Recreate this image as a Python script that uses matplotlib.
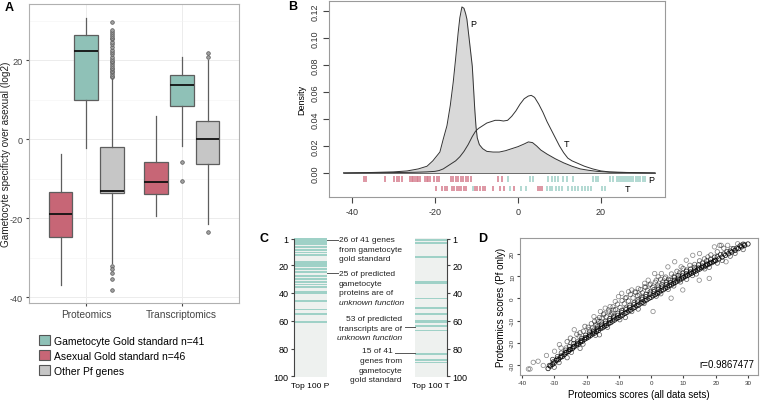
import matplotlib
matplotlib.use("Agg")
import matplotlib.pyplot as plt
from matplotlib.patches import Patch

plt.rcParams['font.family'] = ['Liberation Sans', 'DejaVu Sans']

# ---------------- data ----------------
groups = ["Proteomics", "Transcriptomics"]
legend_labels = ["Gametocyte Gold standard n=41", "Asexual Gold standard n=46", "Other Pf genes"]

# five-number summaries [whisker low, q1, median, q3, whisker high]
prot_asexual = [-37.0, -24.8, -19.0, -13.4, -3.8]
prot_gametocyte = [-2.3, 9.9, 22.4, 26.3, 30.6]
prot_other = [-31.3, -13.7, -13.1, -2.1, 15.4]
trans_asexual = [-19.5, -13.9, -10.9, -5.9, 5.8]
trans_gametocyte = [-1.7, 8.3, 13.7, 16.2, 20.9]
trans_other = [-21.5, -6.2, 0.0, 4.5, 20.0]

prot_other_out = [15.6, 16.0, 16.5, 16.9, 17.3, 17.7, 18.1, 18.6, 19.0, 19.4, 19.8, 20.4,
                  20.9, 21.5, 22.1, 22.6, 23.2, 24.0, 24.6, 25.3, 25.7, 26.1, 26.6, 27.0,
                  27.7, 29.7, -32.2, -32.8, -34.0, -35.3, -38.3]
trans_gametocyte_out = [-5.8, -10.6]
trans_other_out = [20.8, 21.8, -23.5]
a_yticks = [-40, -20, 0, 20]
a_yticklabels = ["-40", "-20", "0", "20"]

# density curves (panel B)
p_x = [-42, -36, -30, -26.7, -24, -21.9, -20.5, -18.8, -18.0, -17.1, -16.3, -15.6, -15.0, -14.4,
       -14.0, -13.5, -13.0, -12.6, -12.3, -11.7, -11.0, -10.7, -10.4, -10.1, -9.8, -9.3, -8.5,
       -7.5, -6.0, -4.5, -3.0, -1.5, 0.0, 1.5, 2.5, 3.5, 4.5, 5.5, 7.0, 9.0, 11.0, 13.0, 15.0,
       17.0, 19.0, 22.0, 26.0, 30.0, 33.0]
p_d = [0, 0.0003, 0.0008, 0.0015, 0.003, 0.005, 0.009, 0.0155, 0.025, 0.035, 0.05, 0.067,
       0.085, 0.104, 0.115, 0.123, 0.122, 0.118, 0.114, 0.098, 0.079, 0.063, 0.047, 0.034,
       0.026, 0.021, 0.018, 0.016, 0.0155, 0.0155, 0.0165, 0.018, 0.0195, 0.0215, 0.023,
       0.0225, 0.02, 0.017, 0.014, 0.0105, 0.0075, 0.005, 0.003, 0.002, 0.0012, 0.0006,
       0.0004, 0.0002, 0]
t_x = [-42, -35, -30, -25, -22, -20, -19, -18, -17, -16, -15, -14, -13, -12, -11, -10.2,
       -9.5, -8.5, -7.5, -6.5, -5.5, -4.5, -3.5, -2.5, -1.5, -0.5, 0.5, 1.5, 2.5, 3.2, 4.0,
       5.0, 6.0, 7.0, 8.0, 9.0, 10.0, 11.0, 12.0, 13.0, 14.5, 16.0, 18.0, 20.0, 22.0, 24.0,
       27.0, 30.0, 33.0]
t_d = [0, 0.0002, 0.0003, 0.0005, 0.0008, 0.0012, 0.0018, 0.003, 0.005, 0.007, 0.009, 0.012,
       0.016, 0.021, 0.027, 0.031, 0.033, 0.035, 0.037, 0.038, 0.039, 0.039, 0.0385, 0.039,
       0.042, 0.046, 0.051, 0.055, 0.057, 0.0575, 0.056, 0.051, 0.045, 0.038, 0.032, 0.026,
       0.02, 0.015, 0.011, 0.009, 0.007, 0.005, 0.003, 0.0015, 0.0008, 0.0005, 0.0003,
       0.0001, 0]
b_xticks = [-40, -20, 0, 20]
b_xticklabels = ["-40", "-20", "0", "20"]
b_yticks = [0, 0.02, 0.04, 0.06, 0.08, 0.10, 0.12]

rugP_asexual = [-37.1, -36.6, -31.9, -29.8, -29.2, -28.6, -27.9, -26.0, -25.6, -25.2, -24.8,
                -24.4, -24.0, -23.6, -22.4, -22.0, -21.6, -21.2, -20.2, -19.6, -19.0, -16.1,
                -15.6, -15.0, -14.4, -13.8, -13.2, -12.5, -12.0, -11.3, -4.7, -3.9]
rugP_gametocyte = [-2.5, 2.9, 3.7, 7.3, 8.1, 8.9, 9.7, 10.9, 11.7, 13.3, 18.1, 18.7, 19.3,
                   22.2, 23.0, 23.8, 24.3, 24.8, 25.3, 25.8, 26.3, 26.8, 27.3, 27.8, 28.3,
                   28.9, 29.4, 30.2, 30.6]
rugT_asexual = [-19.8, -18.2, -17.6, -17.0, -16.0, -15.4, -14.8, -14.2, -13.6, -13.0, -12.4,
                -10.4, -9.8, -9.2, -8.5, -8.0, -6.1, -4.4, -3.4, -1.0, 4.9, 5.4, 5.9]
rugT_gametocyte = [-10.9, -1.9, 0.7, 1.9, 6.9, 7.7, 8.3, 9.1, 9.9, 10.7, 12.0, 12.9, 13.7,
                   14.5, 15.3, 16.1, 16.9, 17.5, 20.2, 21.0]

# panel C: ranks of gold-standard genes in the top 100
top100_P_ranks = [1, 2, 3, 4, 5, 7, 9, 11, 13, 18, 19, 20, 21, 23, 25, 28, 30, 32, 34, 36,
                  39, 40, 46, 52, 55, 61]
top100_T_ranks = [2, 4, 14, 32, 33, 44, 51, 55, 60, 61, 64, 67, 84, 88, 90]
rank_ticks = [1, 20, 40, 60, 80, 100]

# panel D scatter
core_x = [-31.9, -31.2, -30.6, -30.0, -29.4, -28.7, -28.1, -27.5, -26.9, -26.2, -25.6, -25.0,
          -24.4, -23.8, -23.1, -22.5, -21.9, -21.3, -20.6, -20.0, -19.4, -18.8, -18.1, -17.5,
          -16.9, -16.3, -15.6, -15.0, -14.4, -13.8, -13.1, -12.5, -11.9, -11.3, -10.6, -10.0,
          -9.4, -8.8, -8.1, -7.5, -6.9, -6.3, -5.6, -5.0, -4.4, -3.8, -3.1, -2.5, -1.9, -1.3,
          -0.6, 0.0, 0.6, 1.3, 1.9, 2.5, 3.1, 3.8, 4.4, 5.0, 5.6, 6.3, 6.9, 7.5, 8.1, 8.8,
          9.4, 10.0, 10.6, 11.3, 11.9, 12.5, 13.1, 13.8, 14.4, 15.0, 15.6, 16.3, 16.9, 17.5,
          18.1, 18.8, 19.4, 20.0, 21.0, 22.0, 23.0, 24.0, 25.0, 26.0, 27.0, 28.0, 29.0, 30.0]
core_y = [-31.6, -30.5, -29.8, -29.1, -28.0, -27.6, -26.6, -26.2, -25.3, -24.4, -23.9, -23.1,
          -22.6, -21.8, -21.0, -20.6, -19.7, -19.3, -18.4, -17.9, -17.4, -16.8, -16.0, -15.6,
          -14.9, -14.4, -13.6, -13.2, -12.5, -12.1, -11.3, -10.9, -10.2, -9.7, -9.0, -8.6,
          -7.9, -7.5, -6.7, -6.3, -5.6, -5.2, -4.4, -4.0, -3.3, -2.9, -2.1, -1.7, -1.0, -0.6,
          0.1, 0.5, 1.2, 1.7, 2.3, 2.8, 3.5, 3.9, 4.6, 5.0, 5.7, 6.1, 6.7, 7.2, 7.8, 8.3,
          8.8, 9.3, 9.9, 10.3, 10.9, 11.3, 11.8, 12.3, 12.8, 13.2, 13.8, 14.2, 14.7, 15.2,
          15.6, 16.1, 16.6, 17.0, 17.8, 18.6, 19.4, 20.1, 20.9, 21.6, 22.4, 23.2, 23.9, 24.5]
mid_x = [-31.5, -30.3, -29.1, -27.8, -26.6, -25.3, -24.1, -22.8, -21.6, -20.3, -19.1, -17.8,
         -16.6, -15.3, -14.1, -12.8, -11.6, -10.3, -9.1, -7.8, -6.6, -5.3, -4.1, -2.8, -1.6,
         -0.3, 0.9, 2.2, 3.4, 4.7, 5.9, 7.2, 8.4, 9.7, 10.9, 12.2, 13.4, 14.7, 15.9, 17.2,
         18.4, 19.7, 20.5, 22.5, 24.5, 26.5, 28.5]
mid_y = [-30.2, -28.6, -27.3, -25.9, -24.5, -23.0, -21.8, -20.3, -19.0, -17.6, -16.4, -15.0,
         -13.8, -12.5, -11.2, -10.0, -8.8, -7.6, -6.4, -5.1, -4.0, -2.8, -1.6, -0.4, 0.8, 1.9,
         3.0, 4.1, 5.1, 6.2, 7.2, 8.2, 9.1, 10.1, 11.0, 11.9, 12.8, 13.7, 14.6, 15.5, 16.3,
         17.2, 18.8, 20.0, 21.3, 22.6, 24.4]
upper_x = [-30.5, -29.0, -27.8, -26.5, -25.3, -24.0, -22.8, -21.6, -20.3, -19.1, -17.8, -16.6,
           -15.3, -14.1, -12.8, -11.6, -10.3, -9.1, -7.8, -6.6, -5.3, -4.1, -2.8, -1.6, -0.3,
           0.9, 2.2, 3.4, 4.7, 5.9, 7.2, 8.4, 9.7, 10.9, 12.2, 13.4, 14.7, 15.9, 17.2, 18.4,
           19.7, 21.5, 23.5, 25.5, 27.5]
upper_y = [-27.5, -26.2, -24.6, -23.3, -21.7, -20.4, -19.6, -18.0, -16.6, -15.2, -14.3, -12.8,
           -11.6, -10.3, -9.1, -8.0, -6.7, -5.4, -4.4, -3.1, -2.0, -0.7, 0.5, 1.8, 2.9, 4.0,
           5.1, 6.2, 7.3, 8.2, 9.4, 10.3, 11.3, 12.2, 13.2, 14.0, 15.1, 15.9, 16.9, 17.6,
           18.6, 19.7, 21.0, 22.4, 23.6]
cloud_x = [-26.0, -25.0, -24.0, -23.0, -22.0, -21.0, -20.5, -19.5, -18.5, -17.5, -16.8, -16.0,
           -15.5, -14.6, -13.9, -13.0, -12.4, -11.8, -11.0, -10.4, -9.6, -9.0, -8.3, -7.7,
           -7.0, -6.4, -5.6, -4.8, -4.2, -3.3, -2.7, -1.8, -1.1, -0.2, 0.5, 1.3, 2.0, 2.9,
           3.6, 4.5, 5.4, 6.3, 7.1, 8.0, 8.8, 9.9, 11.0, 12.0, 13.5, 15.0, 16.5, 18.5, 20.5,
           22.5]
cloud_y = [-19.5, -17.9, -18.6, -16.2, -15.5, -14.8, -12.6, -13.0, -11.4, -10.3, -12.0, -8.6,
           -10.5, -6.9, -8.3, -6.1, -7.4, -3.8, -5.0, -2.6, -4.1, -1.0, -2.4, 0.4, -1.2, 1.8,
           0.2, 2.6, 1.2, 4.0, 2.5, 4.9, 3.6, 6.4, 5.0, 7.3, 6.0, 8.6, 7.4, 9.6, 8.6, 11.0,
           9.9, 12.2, 11.5, 13.5, 12.8, 14.9, 15.3, 16.9, 17.8, 19.6, 21.0, 22.6]
lower_x = [-30.0, -28.5, -26.0, -24.7, -22.0, -21.1, -17.2, -16.0, -13.5, -9.7, -8.0, -6.0,
           -4.0, -2.2, 1.6, 3.0, 5.3, 7.0, 9.1, 11.0, 12.8, 14.0, 16.6, 18.0, 20.5, 22.0,
           24.5, 26.0, 28.5]
lower_y = [-31.0, -28.9, -26.7, -24.3, -22.5, -20.6, -16.6, -16.4, -13.0, -9.6, -8.6, -5.9,
           -4.8, -2.3, 1.0, 2.1, 4.1, 5.6, 7.4, 8.6, 10.3, 11.0, 13.3, 14.0, 15.9, 17.1, 19.0,
           20.3, 22.0]
sparse_x = [-38.0, -37.5, -36.5, -35.0, -33.4, -32.4, -29.9, -28.4, -27.9, -26.3, -24.8, -23.8,
            -22.3, -19.2, -18.2, -17.2, -16.2, -15.7, -14.7, -13.2, -12.7, -11.1, -10.1, -9.1,
            -8.0, -7.0, -6.0, -5.0, -3.5, -2.0, -0.9, 1.1, 3.2, 5.2, 7.3, 9.3, 10.9, 12.9, 15.0,
            17.6, 19.6, 21.7, 23.7, 24.8, 26.8, 27.8, 28.9, 0.6, 6.2, 9.8, 14.9, 18.0, 23.2,
            21.2, -4.0, -2.0, -0.5, 1.6, 2.2, 4.2, -17.7, -16.7, -15.2, -14.2, -12.1, -11.6]
sparse_y = [-31.8, -31.8, -28.8, -28.3, -30.2, -25.7, -23.8, -20.8, -22.3, -22.3, -20.1, -14.1,
            -17.1, -14.1, -13.4, -11.9, -10.4, -5.9, -7.4, -5.2, -3.7, -1.4, 0.8, 2.3, 0.1,
            3.0, 3.8, 3.0, 1.6, 6.8, 8.2, 11.2, 11.2, 14.2, 16.5, 14.2, 17.2, 19.4, 20.2, 18.7,
            23.2, 23.9, 23.9, 22.4, 24.6, 23.9, 24.3, -5.9, 0.1, 3.8, 8.2, 9.0, 16.5, 23.9,
            4.5, 5.3, 6.0, 8.2, 9.7, 9.0, -8.2, -9.6, -8.9, -4.4, -6.6, -5.2]
d_xticks = [-40, -30, -20, -10, 0, 10, 20, 30]
d_xticklabels = ["-40", "-30", "-20", "-10", "0", "10", "20", "30"]
d_yticks = [-30, -20, -10, 0, 10, 20]
d_yticklabels = ["-30", "-20", "-10", "0", "10", "20"]
r_value = "r=0.9867477"

# ---------------- styling ----------------
GREEN = "#8fc1b7"
RED = "#c76676"
GREY = "#c6c6c6"
RUG_RED = "#d57b8b"
RUG_GREEN = "#9ed0c6"
STRIPE = "#9fd1c7"

W, H = 760, 406
fig = plt.figure(figsize=(W / 100, H / 100), dpi=100)


def px_axes(l, t, r, b, **kw):
    return fig.add_axes([l / W, 1 - b / H, (r - l) / W, (b - t) / H], **kw)


# ---------------- panel A ----------------
axA = px_axes(29, 5, 239, 304)
box_sets = [
    (prot_asexual, [], RED, 1 - 0.27),
    (prot_gametocyte, [], GREEN, 1.0),
    (prot_other, prot_other_out, GREY, 1 + 0.27),
    (trans_asexual, [], RED, 2 - 0.27),
    (trans_gametocyte, trans_gametocyte_out, GREEN, 2.0),
    (trans_other, trans_other_out, GREY, 2 + 0.27),
]
for s, fl, col, pos in box_sets:
    st = dict(whislo=s[0], q1=s[1], med=s[2], q3=s[3], whishi=s[4], fliers=fl)
    axA.bxp([st], positions=[pos], widths=0.25, patch_artist=True, showcaps=False,
            boxprops=dict(facecolor=col, edgecolor="#5e5e5e", linewidth=0.9),
            whiskerprops=dict(color="#5e5e5e", linewidth=0.9),
            medianprops=dict(color="#111111", linewidth=1.3),
            flierprops=dict(marker="o", markersize=2.6, markerfacecolor="#a0a0a0",
                            markeredgecolor="#555555", markeredgewidth=0.5),
            manage_ticks=False, zorder=3)
axA.set_xlim(0.4, 2.6)
axA.set_ylim(-41.5, 34.2)
axA.set_xticks([1, 2])
axA.set_xticklabels(groups, fontsize=7.3, color="#333333")
axA.set_yticks(a_yticks)
axA.set_yticklabels(a_yticklabels)
axA.set_yticks([-30, -10, 10, 30], minor=True)
axA.tick_params(axis="both", which="major", length=2.5, color="#444444",
                labelcolor="#444444", pad=2)
axA.tick_params(axis="y", which="major", labelsize=6.6)
axA.tick_params(axis="y", which="minor", length=0)
axA.grid(True, which="major", color="#ececec", linewidth=0.7)
axA.grid(True, which="minor", axis="y", color="#f3f3f3", linewidth=0.4)
axA.set_axisbelow(True)
for sp in axA.spines.values():
    sp.set_color("#b0b0b0")
    sp.set_linewidth(0.8)
axA.set_ylabel("Gametocyte specificty over asexual (log2)", fontsize=7.2, color="#222222")
axA.yaxis.set_label_coords(-0.088, 0.5)
handles = [Patch(facecolor=c, edgecolor="#555555", linewidth=0.8) for c in (GREEN, RED, GREY)]
axA.legend(handles, legend_labels, loc="upper left", bbox_to_anchor=(39 / W, 1 - 336 / H),
           bbox_transform=fig.transFigure, frameon=False, fontsize=7.5, handlelength=1.05,
           handleheight=1.15, handletextpad=0.35, labelspacing=0.42, borderaxespad=0,
           borderpad=0)

# ---------------- panel B ----------------
axB = px_axes(329, 2, 665, 198)
axB.fill_between(p_x, p_d, 0, color="#d9d9d9", linewidth=0, zorder=1)
axB.plot(p_x, p_d, color="#333333", linewidth=0.7, zorder=2)
axB.plot([p_x[0], p_x[-1]], [0, 0], color="#555555", linewidth=0.6, zorder=2)
axB.plot(t_x, t_d, color="#333333", linewidth=0.7, zorder=2)
axB.vlines(rugP_asexual, -0.0069, -0.0025, color=RUG_RED, linewidth=1.1)
axB.vlines(rugP_gametocyte, -0.0069, -0.0025, color=RUG_GREEN, linewidth=1.1)
axB.vlines(rugT_asexual, -0.0136, -0.0094, color=RUG_RED, linewidth=1.1)
axB.vlines(rugT_gametocyte, -0.0136, -0.0094, color=RUG_GREEN, linewidth=1.1)
axB.text(-11.6, 0.111, "P", fontsize=6.5, ha="left", va="center")
axB.text(11.1, 0.022, "T", fontsize=6.5, ha="left", va="center")
axB.text(32.0, -0.0046, "P", fontsize=6.5, ha="center", va="center")
axB.text(26.3, -0.0118, "T", fontsize=6.5, ha="center", va="center")
axB.set_xlim(-45.5, 35.4)
axB.set_ylim(-0.0178, 0.1274)
axB.set_xticks(b_xticks)
axB.set_xticklabels(b_xticklabels)
axB.set_yticks(b_yticks)
axB.set_yticklabels([f"{v:.2f}" for v in b_yticks], rotation=90, va="center")
axB.tick_params(axis="both", length=4, color="#444444", labelsize=6.5, pad=3,
                labelcolor="#333333")
for sp in axB.spines.values():
    sp.set_color("#9a9a9a")
    sp.set_linewidth(0.8)
axB.set_ylabel("Density", fontsize=6.5, labelpad=3)

# ---------------- panel C ----------------
axP = px_axes(294, 239, 327, 378)
axT = px_axes(415, 239, 447, 378)
for ax, ranks, side in ((axP, top100_P_ranks, "left"), (axT, top100_T_ranks, "right")):
    ax.set_facecolor("#eef1ef")
    for r in ranks:
        ax.axhspan(r - 0.65, r + 0.65, color=STRIPE, linewidth=0)
    ax.set_ylim(100.5, 0.5)
    ax.set_xlim(0, 1)
    ax.set_xticks([])
    ax.set_yticks(rank_ticks)
    for name, sp in ax.spines.items():
        sp.set_visible(name == side)
    ax.spines[side].set_bounds(1, 100)
    ax.spines[side].set_color("#444444")
    ax.spines[side].set_linewidth(0.8)
    if side == "right":
        ax.yaxis.tick_right()
    ax.tick_params(axis="y", length=2.5, color="#444444", labelsize=6.5, pad=1.5)

# ---------------- panel D ----------------
axD = px_axes(520, 239, 758, 376)
sc_kw = dict(s=10, facecolors="none", linewidths=0.55)
axD.scatter(sparse_x, sparse_y, edgecolors=(0, 0, 0, 0.45), **sc_kw)
axD.scatter(cloud_x, cloud_y, edgecolors=(0, 0, 0, 0.55), **sc_kw)
axD.scatter(lower_x, lower_y, edgecolors=(0, 0, 0, 0.6), **sc_kw)
axD.scatter(upper_x, upper_y, edgecolors=(0, 0, 0, 0.7), **sc_kw)
axD.scatter(mid_x, mid_y, edgecolors=(0, 0, 0, 0.8), **sc_kw)
axD.scatter(core_x, core_y, edgecolors=(0, 0, 0, 0.9), **sc_kw)
axD.set_xlim(-40.6, 33.1)
axD.set_ylim(-34.5, 27.2)
axD.set_xticks(d_xticks)
axD.set_xticklabels(d_xticklabels)
axD.set_yticks(d_yticks)
axD.set_yticklabels(d_yticklabels, rotation=90, va="center")
axD.tick_params(axis="both", length=2, color="#444444", labelsize=4.5, pad=1.5,
                labelcolor="#333333")
for sp in axD.spines.values():
    sp.set_color("#9a9a9a")
    sp.set_linewidth(0.8)
axD.set_xlabel("Proteomics scores (all data sets)", fontsize=7, labelpad=3)
axD.set_ylabel("Proteomics scores (Pf only)", fontsize=7, labelpad=3)
axD.text(0.985, 0.08, r_value, transform=axD.transAxes, ha="right", va="center", fontsize=7)

# ---------------- overlay: labels & annotations ----------------
ov = fig.add_axes([0, 0, 1, 1], zorder=10)
ov.set_xlim(0, W)
ov.set_ylim(H, 0)
ov.axis("off")
ov.patch.set_alpha(0)

for lab, x, y in (("A", 9, 8), ("B", 293, 7), ("C", 264, 239), ("D", 483, 239)):
    ov.text(x, y, lab, fontsize=9, fontweight="bold", ha="center", va="center")

fs = 6
line_kw = dict(color="#555555", linewidth=0.7)
ov.plot([327, 338], [240.7, 240.7], **line_kw)
ov.plot([327, 338], [274.3, 274.3], **line_kw)
ov.plot([405, 415], [327.7, 327.7], **line_kw)
ov.plot([395, 415], [354.0, 354.0], **line_kw)

for txt, y, st in (("26 of 41 genes", 241, "normal"), ("from gametocyte", 250.5, "normal"),
                   ("gold standard", 260, "normal"), ("25 of predicted", 275, "normal"),
                   ("gametocyte", 284.5, "normal"), ("proteins are of", 294, "normal"),
                   ("unknown function", 303.5, "italic")):
    ov.text(339, y, txt, fontsize=fs, ha="left", va="center", style=st, color="#222222")
for txt, x, y, st in (("53 of predicted", 402, 320, "normal"),
                      ("transcripts are of", 402, 329.5, "normal"),
                      ("unknown function", 402, 338.5, "italic"),
                      ("15 of 41", 393, 351.7, "normal"),
                      ("genes from", 402, 361.7, "normal"),
                      ("gametocyte", 402, 371.5, "normal"),
                      ("gold standard", 402, 381, "normal")):
    ov.text(x, y, txt, fontsize=fs, ha="right", va="center", style=st, color="#222222")
ov.text(310, 387, "Top 100 P", fontsize=fs, ha="center", va="center")
ov.text(431, 387, "Top 100 T", fontsize=fs, ha="center", va="center")

fig.savefig("out.png", dpi=100)
